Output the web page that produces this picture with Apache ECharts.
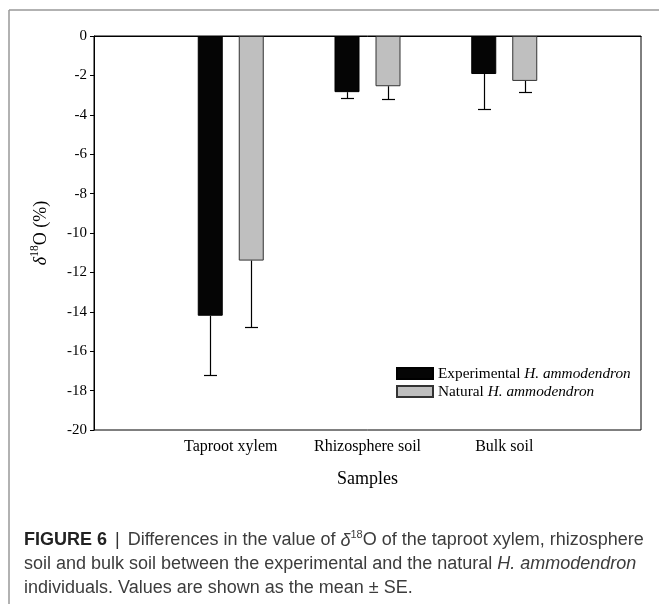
<!DOCTYPE html>
<html>
<head>
<meta charset="utf-8">
<script src="https://cdn.jsdelivr.net/npm/echarts@6/dist/echarts.min.js"></script>
<style>
html,body{margin:0;padding:0;background:#fff;}
#main{width:659px;height:604px;}
</style>
</head>
<body>
<div id="main"></div>
<script>
// ---- data ----
var categories = ['Taproot xylem', 'Rhizosphere soil', 'Bulk soil'];
var seriesNames = ['Experimental H. ammodendron', 'Natural H. ammodendron'];
var experimental = [-14.2, -2.85, -1.93];
var natural = [-11.4, -2.55, -2.28];
var experimentalSE = [3.0, 0.28, 1.79];
var naturalSE = [3.35, 0.63, 0.55];
var yTicks = [0, -2, -4, -6, -8, -10, -12, -14, -16, -18, -20];

// ---- build ----
var paddedCats = [''].concat(categories).concat(['']);
function padVals(a){ return [null].concat(a).concat([null]); }
function errData(vals, se){
  return vals.map(function(v,i){ return [i+1, v, v - se[i]]; });
}
var BAR_W = 25, OFFSET = 20.5, CAP = 13;
function errRender(offset){
  return function(params, api){
    var x = api.value(0);
    var top = api.coord([x, api.value(1)]);
    var bot = api.coord([x, api.value(2)]);
    var cx = Math.round(top[0] + offset) + 0.5;
    var by = Math.round(bot[1]) + 0.5;
    var st = {stroke:'#000', lineWidth:1.2};
    return {type:'group', children:[
      {type:'line', shape:{x1:cx,y1:top[1],x2:cx,y2:by}, style:st},
      {type:'line', shape:{x1:cx-CAP/2,y1:by,x2:cx+CAP/2,y2:by}, style:st}
    ]};
  };
}
var serif = 'Liberation Serif';
var sans = 'Liberation Sans';
var capColor = '#3c3c3c';
var CF = 18;
function tok(extra){
  var o = {fontSize:CF, fontFamily:sans, fill:capColor, lineHeight:23, verticalAlign:'middle'};
  for (var k in extra) o[k] = extra[k];
  return o;
}
var chart = echarts.init(document.getElementById('main'));
chart.setOption({
  animation:false,
  backgroundColor:'#fff',
  grid:{left:94, top:36, right:18, bottom:174, show:true, borderColor:'#000', borderWidth:1, backgroundColor:'transparent'},
  xAxis:{
    type:'category', data:paddedCats, boundaryGap:false,
    axisLine:{lineStyle:{color:'#000', width:1}},
    axisTick:{show:false},
    axisLabel:{color:'#000', fontFamily:serif, fontSize:16, margin:9, interval:0},
    splitLine:{show:false},
    name:'Samples', nameLocation:'middle', nameGap:40,
    nameTextStyle:{color:'#000', fontFamily:serif, fontSize:18}
  },
  yAxis:{
    type:'value', min:-20, max:0, interval:2,
    axisLine:{show:true, lineStyle:{color:'#000', width:1}},
    axisTick:{show:true, inside:false, length:4, lineStyle:{color:'#000'}},
    axisLabel:{color:'#000', fontFamily:serif, fontSize:15, margin:7},
    splitLine:{show:false},
    name:'{i|δ}{s|18}{n|O (%)}', nameLocation:'middle', nameGap:44, nameRotate:90,
    nameTextStyle:{
      color:'#000', fontFamily:serif, fontSize:18,
      rich:{
        i:{fontFamily:serif, fontStyle:'italic', fontSize:18, lineHeight:21, verticalAlign:'bottom', color:'#000'},
        s:{fontFamily:serif, fontSize:11.5, lineHeight:21, verticalAlign:'top', color:'#000'},
        n:{fontFamily:serif, fontSize:18, lineHeight:21, verticalAlign:'bottom', color:'#000'}
      }
    }
  },
  legend:{
    orient:'vertical', left:391, top:361, itemWidth:36, itemHeight:11, itemGap:3,
    icon:'rect',
    data:seriesNames,
    selectedMode:false,
    formatter:function(name){
      var p = name.split(' H. ');
      return '{n|' + p[0] + ' }{i|H. ' + p[1] + '}';
    },
    textStyle:{
      color:'#000', fontFamily:serif, fontSize:15.3,
      rich:{
        n:{fontFamily:serif, fontSize:15.3, color:'#000', lineHeight:18},
        i:{fontFamily:serif, fontSize:15.3, fontStyle:'italic', color:'#000', lineHeight:18}
      }
    }
  },
  series:[
    {name:seriesNames[0], type:'bar', data:padVals(experimental), barWidth:BAR_W, barGap:'64%',
     itemStyle:{color:'#050505', borderColor:'#000', borderWidth:1}},
    {name:seriesNames[1], type:'bar', data:padVals(natural), barWidth:BAR_W, barGap:'64%',
     itemStyle:{color:'#bfbfbf', borderColor:'#333', borderWidth:1}},
    {type:'custom', renderItem:errRender(-OFFSET), data:errData(experimental, experimentalSE), z:5, silent:true},
    {type:'custom', renderItem:errRender(OFFSET), data:errData(natural, naturalSE), z:5, silent:true}
  ],
  graphic:[
    {type:'line', shape:{x1:9,y1:10,x2:659,y2:10}, style:{stroke:'#999', lineWidth:1.5}},
    {type:'line', shape:{x1:9,y1:10,x2:9,y2:604}, style:{stroke:'#999', lineWidth:1.5}},
    {type:'text', left:24, top:529, style:{
      text:'{b|FIGURE 6}{t| }{p||}{t| Differences in the value of }{i|δ}{s|18}{t|O of the taproot xylem, rhizosphere}',
      fill:capColor, font:CF + 'px "Liberation Sans"',
      rich:{
        b:tok({fontWeight:'bold', fill:'#222'}),
        p:tok({fill:'#333', padding:[0,3,0,3]}),
        t:tok({}),
        i:tok({fontStyle:'italic'}),
        s:{fontSize:11, fontFamily:sans, fill:capColor, lineHeight:19, verticalAlign:'top'}
      }
    }},
    {type:'text', left:24, top:555, style:{
      text:'soil and bulk soil between the experimental and the natural {i|H. ammodendron}',
      fill:capColor, font:CF + 'px "Liberation Sans"',
      rich:{ i:{fontStyle:'italic', fontSize:CF, fontFamily:sans, fill:capColor} }
    }},
    {type:'text', left:24, top:579, style:{
      text:'individuals. Values are shown as the mean ± SE.',
      fill:capColor, font:CF + 'px "Liberation Sans"'
    }}
  ]
});
</script>
</body>
</html>
